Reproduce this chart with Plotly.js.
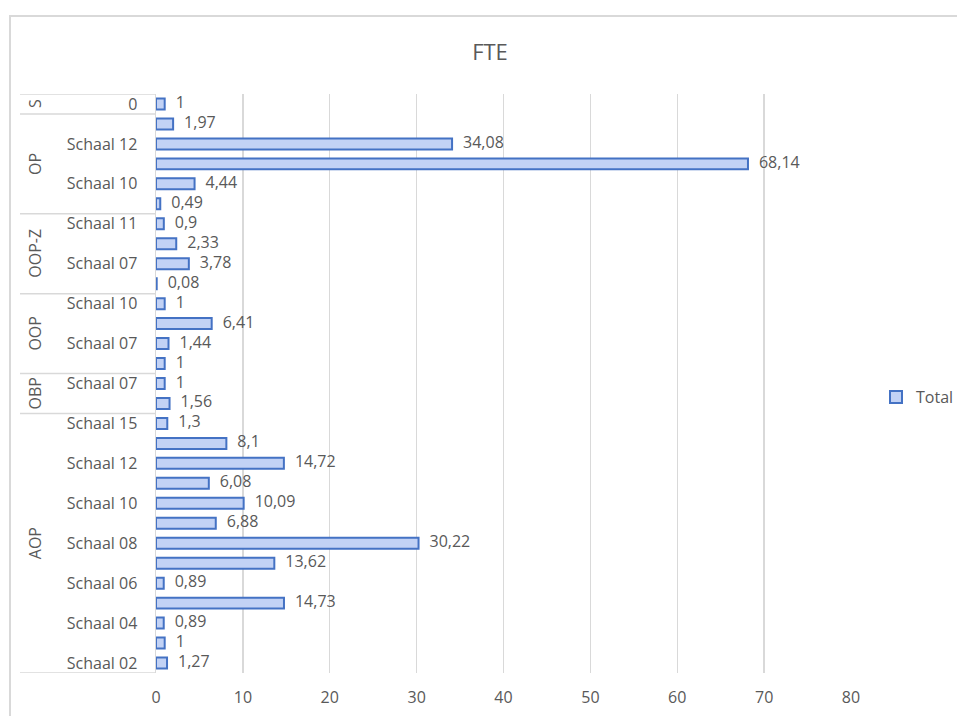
<!DOCTYPE html>
<html>
<head>
<meta charset="utf-8">
<script src="https://cdn.plot.ly/plotly-3.0.1.min.js"></script>
<style>
  html, body { margin: 0; padding: 0; background: #ffffff; overflow: hidden; width: 957px; height: 716px; }
  #chart { position: absolute; left: 0; top: 0; width: 957px; height: 716px; }
</style>
</head>
<body>
<div id="chart"></div>
<script>
// Data, listed from the bottom bar to the top bar
const groups = ['AOP','AOP','AOP','AOP','AOP','AOP','AOP','AOP','AOP','AOP','AOP','AOP','AOP',
                'OBP','OBP',
                'OOP','OOP','OOP','OOP',
                'OOP-Z','OOP-Z','OOP-Z','OOP-Z',
                'OP','OP','OP','OP','OP',
                'S'];
const labels = ['Schaal 02','Schaal 03','Schaal 04','Schaal 05','Schaal 06','Schaal 07','Schaal 08','Schaal 09','Schaal 10','Schaal 11','Schaal 12','Schaal 14','Schaal 15',
                'Schaal 06','Schaal 07',
                'Schaal 06','Schaal 07','Schaal 08','Schaal 10',
                'Schaal 06','Schaal 07','Schaal 08','Schaal 11',
                'Schaal 09','Schaal 10','Schaal 11','Schaal 12','Schaal 13',
                '0'];
const values = [1.27, 1, 0.89, 14.73, 0.89, 13.62, 30.22, 6.88, 10.09, 6.08, 14.72, 8.1, 1.3,
                1.56, 1,
                1, 1.44, 6.41, 1,
                0.08, 3.78, 2.33, 0.9,
                0.49, 4.44, 68.14, 34.08, 1.97,
                1];
const xTicks = [0, 10, 20, 30, 40, 50, 60, 70, 80];
const seriesName = 'Total';
const chartTitle = 'FTE';

const idx = values.map((v, i) => i);
const textLabels = values.map(v => String(v).replace('.', ','));
// Excel shows every other category label
const shownTicks = idx.filter(i => i % 2 === 0);
const shownText = shownTicks.map(i => labels[i]);

// group extents
const groupList = [];
groups.forEach((g, i) => {
  const last = groupList[groupList.length - 1];
  if (last && last.name === g) { last.end = i; }
  else groupList.push({name: g, start: i, end: i});
});

const gray = '#595959';
const lineGray = '#d9d9d9';
const font = 'Open Sans, Noto Sans, sans-serif';

const W = 957, H = 716;
const M = {l: 156, r: 106, t: 94, b: 43, autoexpand: false};
const pw = W - M.l - M.r, ph = H - M.t - M.b;
const px = x => (x - M.l) / pw;           // page x -> paper x
const py = y => (H - M.b - y) / ph;       // page y -> paper y

const shapes = [];
// chart area border (left and top edges visible)
shapes.push({type: 'path', xref: 'paper', yref: 'paper', layer: 'below',
  path: 'M' + px(10) + ',' + py(H + 5) + ' L' + px(10) + ',' + py(16) + ' L' + px(W + 5) + ',' + py(16),
  line: {color: lineGray, width: 2}});
const boundaries = [groupList[0].start - 0.5].concat(groupList.map(g => g.end + 0.5));
boundaries.forEach(b => {
  shapes.push({type: 'line', xref: 'paper', yref: 'y', x0: px(20), x1: 0, y0: b, y1: b,
               line: {color: lineGray, width: 1.5}});
});
const annotations = groupList.map(g => ({
  xref: 'paper', yref: 'y', x: px(35), y: (g.start + g.end) / 2,
  text: g.name, showarrow: false, textangle: -90, xanchor: 'center', yanchor: 'middle',
  font: {family: font, size: 16, color: gray}
}));

const barTrace = {
  type: 'bar', orientation: 'h', x: values, y: idx, name: seriesName,
  marker: {color: '#c2d2f5', line: {color: '#4472c4', width: 2}},
  hoverinfo: 'x'
};
const textTrace = {
  type: 'scatter', mode: 'markers+text', x: values, y: idx, text: textLabels,
  textposition: 'middle right', showlegend: false, hoverinfo: 'skip', cliponaxis: false,
  marker: {size: 16, color: 'rgba(0,0,0,0)'},
  textfont: {family: font, size: 16, color: gray}
};

const layout = {
  width: W, height: H,
  margin: M,
  paper_bgcolor: '#ffffff', plot_bgcolor: '#ffffff',
  title: {text: chartTitle, x: 490 / W, xref: 'container', y: 1 - 52 / H, yref: 'container',
          xanchor: 'center', yanchor: 'middle', font: {family: font, size: 22, color: gray}},
  bargap: 0.45,
  xaxis: {range: [0, 80], tickvals: xTicks, ticktext: xTicks.map(String), showgrid: true,
          gridcolor: lineGray, gridwidth: 1.3, zeroline: false, showline: false,
          ticks: 'outside', ticklen: 10, tickcolor: 'rgba(0,0,0,0)',
          tickfont: {family: font, size: 16, color: gray}, fixedrange: true},
  yaxis: {range: [-0.5, values.length - 0.5], tickvals: shownTicks, ticktext: shownText,
          showgrid: false, zeroline: false, showline: true, linecolor: lineGray, linewidth: 1.5,
          ticks: 'outside', ticklen: 14, tickcolor: 'rgba(0,0,0,0)',
          tickfont: {family: font, size: 16, color: gray}, fixedrange: true},
  showlegend: true,
  legend: {x: px(876), xanchor: 'left', y: py(397), yanchor: 'middle',
           font: {family: font, size: 16, color: gray}, bgcolor: 'rgba(0,0,0,0)'},
  shapes: shapes,
  annotations: annotations
};

Plotly.newPlot('chart', [barTrace, textTrace], layout, {displayModeBar: false, staticPlot: true});
</script>
</body>
</html>
